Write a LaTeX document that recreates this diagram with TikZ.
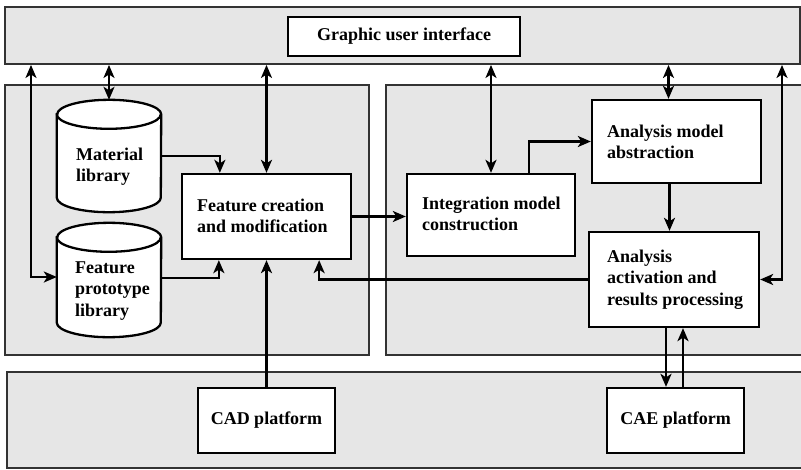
\documentclass[tikz,border=0pt]{standalone}
\usepackage{fontspec}
\setmainfont{Liberation Serif}
\usetikzlibrary{arrows.meta,calc}

\definecolor{panelgray}{RGB}{230,230,230}

% cylinder outline drawn round a named (invisible) rectangle node
\newcommand\drawdrum[1]{%
  \draw[drumline] ($(#1.north west)+(0pt,-14.5pt)$) -- ($(#1.south west)+(0pt,14.5pt)$)
    arc[start angle=180,end angle=360,x radius=52pt,y radius=14.5pt]
    -- ($(#1.north east)+(0pt,-14.5pt)$)
    arc[start angle=0,end angle=180,x radius=52pt,y radius=14.5pt] -- cycle;
  \draw[line width=2.3pt] ($(#1.north west)+(0pt,-14.5pt)$)
    arc[start angle=180,end angle=360,x radius=52pt,y radius=14.5pt];
}

\begin{document}
\begin{tikzpicture}[x=1pt,y=-1pt,
  panel/.style={fill=panelgray,draw=black!80,line width=1.9pt,inner sep=0},
  box/.style={draw,fill=white,line width=2.3pt,inner sep=0,
    font=\bfseries\fontsize{18}{21.5}\selectfont},
  drumline/.style={draw,fill=white,line width=2.3pt},
  hold/.style={inner sep=0},
  lbl/.style={font=\bfseries\fontsize{18}{21.5}\selectfont,align=left,inner sep=0,anchor=base west},
  tip/.tip={Stealth[length=13pt,width=11pt,inset=3.5pt]},
  arr/.style={line width=2.3pt,line join=miter,-tip},
  dbl/.style={line width=2.3pt,line join=miter,tip-tip}]

\useasboundingbox (0,0) rectangle (801,469);

% grey layers
\node[panel,minimum width=795pt,minimum height=57pt] (topband) at (402.5,35.5) {};
\node[panel,minimum width=364pt,minimum height=270pt] (leftpanel) at (187,220) {};
\node[panel,minimum width=426pt,minimum height=270pt] (rightpanel) at (599,220) {};
\node[panel,minimum width=805pt,minimum height=96pt] (bottomband) at (409.5,420) {};

% boxes
\node[box,minimum width=232pt,minimum height=39pt] (gui) at (404,36.5) {Graphic user interface};
\node[box,minimum width=169pt,minimum height=85pt] (fc) at (266.5,216.5) {};
\node[box,minimum width=168pt,minimum height=82pt] (int) at (491,215) {};
\node[box,minimum width=169pt,minimum height=83pt] (abs) at (676.5,141.5) {};
\node[box,minimum width=170pt,minimum height=95pt] (act) at (674,279.5) {};
\node[box,minimum width=137pt,minimum height=65pt] (cad) at (266.5,420.5) {CAD platform};
\node[box,minimum width=137pt,minimum height=65pt] (cae) at (675.5,420.5) {CAE platform};

% libraries
\node[hold,minimum width=104pt,minimum height=112pt] (mat) at (109,156) {};
\node[hold,minimum width=104pt,minimum height=114pt] (proto) at (109,280) {};
\drawdrum{mat}
\drawdrum{proto}

% texts (placed at the baseline of their last line)
\node[lbl] (matt) at (76,181.5) {Material\\library};
\node[lbl] (protot) at (75,316) {Feature\\prototype\\library};
\node[lbl] (fct) at (197,232.5) {Feature creation\\and modification};
\node[lbl] (intt) at (422,230.5) {Integration model\\construction};
\node[lbl] (abst) at (607,158.5) {Analysis model\\abstraction};
\node[lbl] (actt) at (607,305) {Analysis\\activation and\\results processing};

% connector helpers
\coordinate (lv) at (31,200);
\coordinate (rv) at (782,200);
\coordinate (absin) at ([xshift=-8pt]abs.north);
\coordinate (absout) at ([xshift=-7pt]abs.south);
\coordinate (fcin1) at ([xshift=39pt]fc.north west);
\coordinate (fcin2) at ([xshift=38pt]fc.south west);
\coordinate (fcin3) at ([xshift=-33pt]fc.south east);
\coordinate (protoin) at ([yshift=3pt]proto.west);
\coordinate (protoout) at ([yshift=2pt]proto.east);
\coordinate (intout) at ([xshift=123pt]int.north west);
\coordinate (caein) at ([xshift=-8pt]act.south);
\coordinate (caeout) at ([xshift=7.5pt]cae.north);

% connectors
\draw[dbl] (mat.north |- topband.south) -- (mat.north);
\draw[dbl] (fc.north |- topband.south) -- (fc.north);
\draw[dbl] (int.north |- topband.south) -- (int.north);
\draw[dbl] (absin |- topband.south) -- (absin);
\draw[dbl] (topband.south -| lv) |- (protoin);
\draw[dbl] (topband.south -| rv) |- (act.east);
\draw[arr] (mat.east) -| (fcin1);
\draw[arr] (protoout) -| (fcin2);
\draw[arr] (cad.north) -- (fc.south);
\draw[arr] (act.west) -| (fcin3);
\draw[arr] (fc.east) -- (int.west |- fc.east);
\draw[arr] (intout) |- (abs.west);
\draw[arr] (absout) -- (absout |- act.north);
\draw[arr] (caein) -- (caein |- cae.north);
\draw[arr] (caeout) -- (caeout |- act.south);
\end{tikzpicture}
\end{document}
